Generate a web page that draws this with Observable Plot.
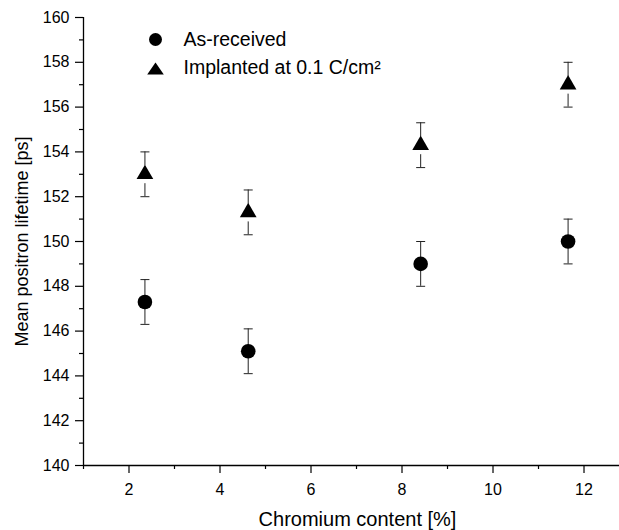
<!DOCTYPE html>
<html><head><meta charset="utf-8">
<script src="https://cdn.jsdelivr.net/npm/d3@7"></script>
<script src="https://cdn.jsdelivr.net/npm/@observablehq/plot@0.6"></script>
<style>
body{margin:0;background:#fff;}
#chart svg{display:block;}
</style>
</head><body><div id="chart"></div>
<script>
// ---- data ----
const chromium      = [2.35, 4.62, 8.41, 11.65];
const asReceived    = [147.3, 145.1, 149.0, 150.0];
const asReceivedErr = [1.0, 1.0, 1.0, 1.0];
const implanted     = [153.0, 151.3, 154.3, 157.0];
const implantedErr  = [1.0, 1.0, 1.0, 1.0];
const seriesNames   = ["As-received", "Implanted at 0.1 C/cm\u00B2"];
const xTicks  = [2, 4, 6, 8, 10, 12];
const xMinor  = [1, 3, 5, 7, 9, 11];
const yTicks  = [140, 142, 144, 146, 148, 150, 152, 154, 156, 158, 160];
const yMinor  = [141, 143, 145, 147, 149, 151, 153, 155, 157, 159];
const xLabel  = "Chromium content [%]";
const yLabel  = "Mean positron lifetime [ps]";

// ---- tables ----
const rowsA = chromium.map((x, i) => ({x, y: asReceived[i], lo: asReceived[i] - asReceivedErr[i], hi: asReceived[i] + asReceivedErr[i]}));
const rowsB = chromium.map((x, i) => ({x, y: implanted[i], lo: implanted[i] - implantedErr[i], hi: implanted[i] + implantedErr[i]}));
const rowsAll = rowsA.concat(rowsB);

// custom symbols
const capSymbol = {draw(ctx, size) { const r = Math.sqrt(size / Math.PI); ctx.moveTo(-r, 0); ctx.lineTo(r, 0); }};
const flatTriangle = {draw(ctx, size) {
  const r = Math.sqrt(size / Math.PI); // half width
  const h = r * 1.45;
  ctx.moveTo(0, -h * 2 / 3); ctx.lineTo(r, h / 3); ctx.lineTo(-r, h / 3); ctx.closePath();
}};

const font = "'Liberation Sans', Arial, Helvetica, sans-serif";
const ink = "#000";

const chart = Plot.plot({
  width: 619,
  height: 530,
  marginLeft: 83,
  marginRight: 0,
  marginTop: 17,
  marginBottom: 65,
  style: {fontFamily: font, fontSize: "16px", color: ink, background: "#fff", overflow: "visible"},
  x: {domain: [1, 12.78], label: null},
  y: {domain: [140, 160], label: null},
  marks: [
    // axes
    Plot.axisY({ticks: yTicks, tickSize: 8, tickPadding: 6, tickFormat: d => d, strokeWidth: 1.2, label: null}),
    Plot.axisY({ticks: yMinor, tickSize: 4, text: null, strokeWidth: 1.2, label: null}),
    Plot.axisX({ticks: xTicks, tickSize: 8, tickPadding: 10, tickFormat: d => d, strokeWidth: 1.2, label: null}),
    Plot.axisX({ticks: xMinor, tickSize: 4, text: null, strokeWidth: 1.2, label: null}),
    Plot.ruleX([1], {stroke: ink, strokeWidth: 1.3}),
    Plot.ruleY([140], {stroke: ink, strokeWidth: 1.3}),
    // axis titles
    Plot.text([yLabel], {frameAnchor: "left", text: d => d, rotate: -90, dx: -61, fontSize: 18, textAnchor: "middle", lineAnchor: "middle", fill: ink}),
    Plot.text([xLabel], {frameAnchor: "bottom", text: d => d, dx: 6, dy: 60, fontSize: 20, lineAnchor: "bottom", fill: ink}),
    // error bars
    Plot.ruleX(rowsAll, {x: "x", y1: "lo", y2: "hi", stroke: "#222", strokeWidth: 1}),
    Plot.dot(rowsAll, {x: "x", y: "lo", symbol: capSymbol, r: 4.5, stroke: "#222", strokeWidth: 1, fill: "none"}),
    Plot.dot(rowsAll, {x: "x", y: "hi", symbol: capSymbol, r: 4.5, stroke: "#222", strokeWidth: 1, fill: "none"}),
    // white halo under triangles
    Plot.dot(rowsB, {x: "x", y: "y", r: 9, fill: "#fff", stroke: "none"}),
    // markers
    Plot.dot(rowsA, {x: "x", y: "y", r: 7.3, fill: ink, stroke: "none", symbol: "circle"}),
    Plot.dot(rowsB, {x: "x", y: "y", r: 6.2, fill: ink, stroke: "none", symbol: "triangle"}),
    // legend
    Plot.dot([seriesNames[0]], {frameAnchor: "top-left", dx: 72, dy: 22, r: 6.5, fill: ink, symbol: "circle"}),
    Plot.text([seriesNames[0]], {frameAnchor: "top-left", text: d => d, dx: 100, dy: 28, fontSize: 19.5, textAnchor: "start", lineAnchor: "bottom", fill: ink}),
    Plot.dot([seriesNames[1]], {frameAnchor: "top-left", dx: 72, dy: 53, r: 8.3, fill: ink, symbol: flatTriangle}),
    Plot.text([seriesNames[1]], {frameAnchor: "top-left", text: d => d, dx: 100, dy: 56.5, fontSize: 19.5, textAnchor: "start", lineAnchor: "bottom", fill: ink})
  ]
});
document.getElementById("chart").appendChild(chart);
</script>
</body></html>
